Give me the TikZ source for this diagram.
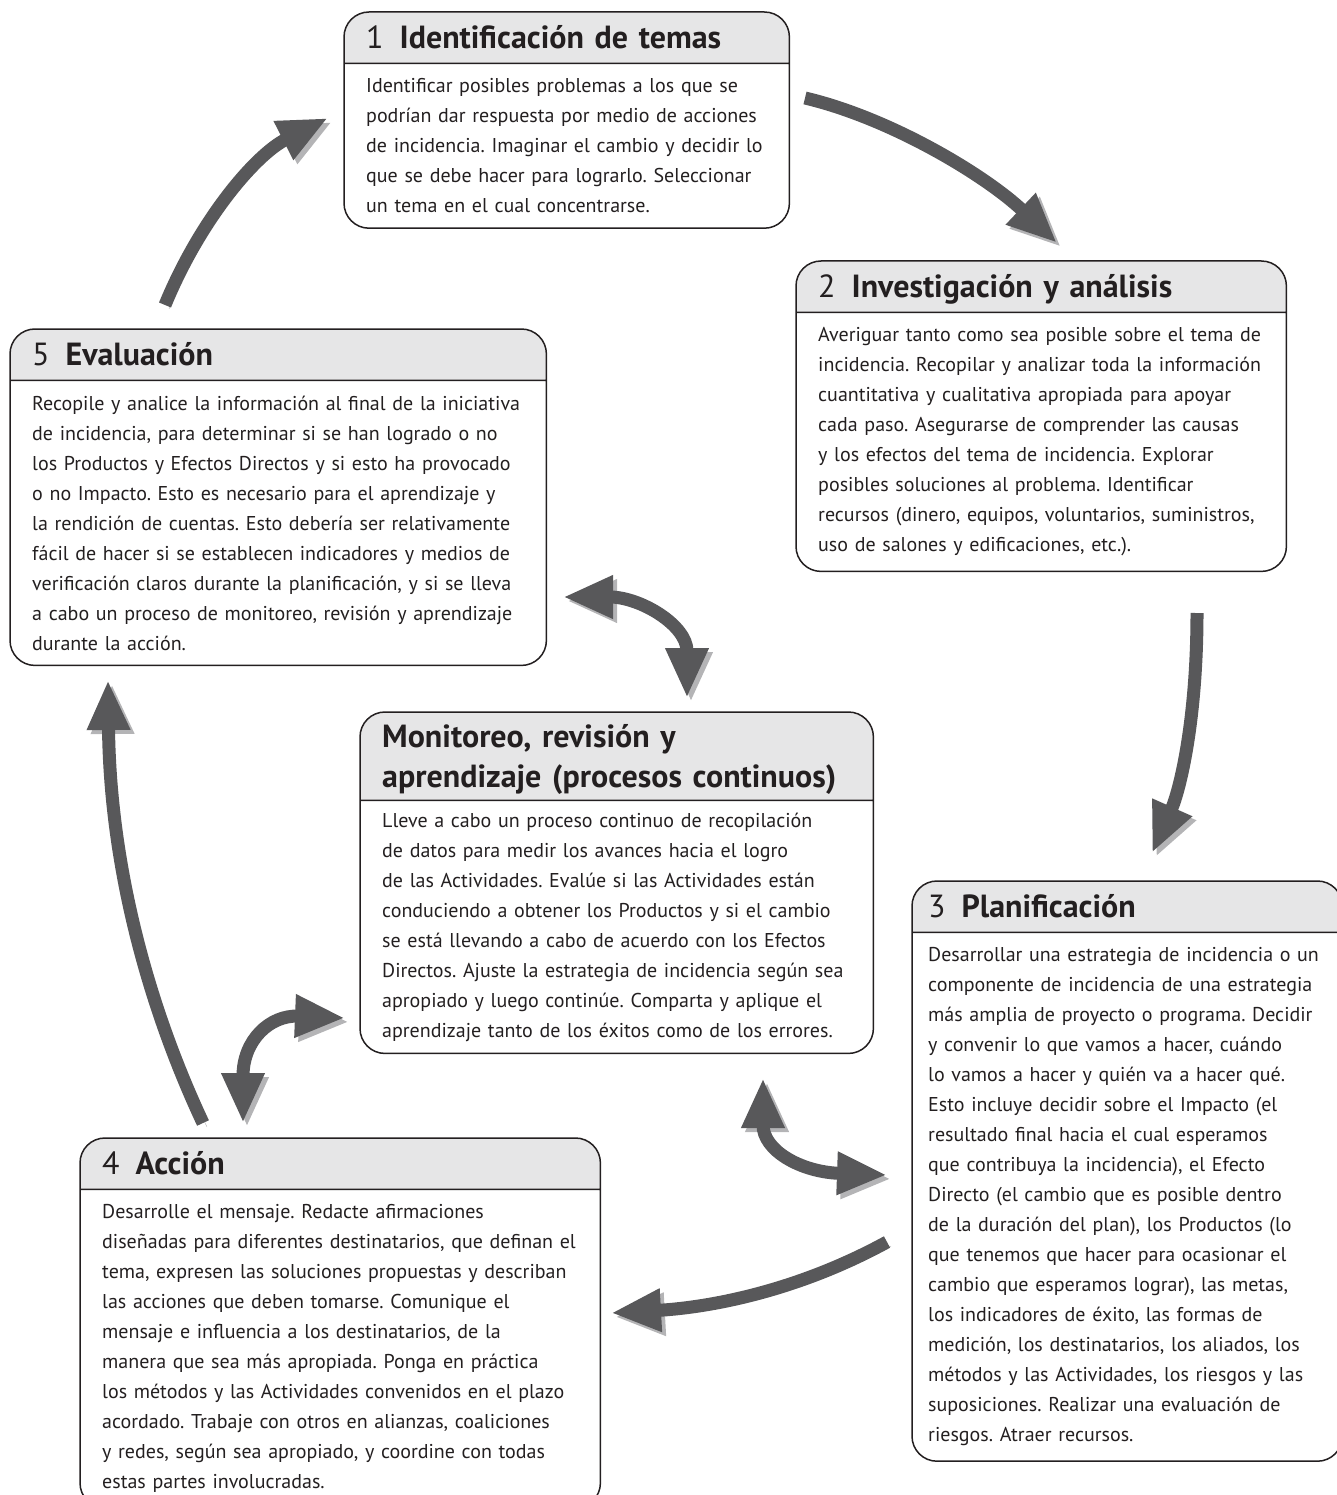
\documentclass[tikz,border=0pt]{standalone}
\usepackage{fontspec}
\setmainfont{PT Sans}
\usetikzlibrary{positioning,arrows.meta,backgrounds}
\definecolor{headgray}{HTML}{E6E6E7}
\definecolor{arrowgray}{HTML}{58585A}
\definecolor{shadegray}{HTML}{B4B4B6}
\definecolor{inkblack}{HTML}{231F20}
\tikzset{
  head/.style={text width=#1, minimum height=51pt, inner xsep=22pt, inner ysep=0pt,
    text height=22pt, text depth=1pt, align=left, text=inkblack,
    font=\fontsize{32}{40}\selectfont},
  body/.style={text width=#1, inner xsep=22pt, inner ysep=15pt,
    align=left, text=inkblack, font=\fontsize{20}{30}\selectfont\frenchspacing},
  frame/.style={draw=inkblack, line width=1.5pt, rounded corners=25pt},
  flow/.style={draw=arrowgray, line width=13pt, >={Triangle[length=50pt,width=40pt]},
    preaction={draw=shadegray, transform canvas={shift={(4pt,-4pt)}}}}
}
\begin{document}
\begin{tikzpicture}[x=1pt, y=-1pt]
\path[use as bounding box] (0,0) rectangle (1337,1495);
\clip (0,0) rectangle (1337,1495);

\node[head=401pt, anchor=north west] (h1) at (344,12) {1\enspace\textbf{Identificación de temas}};
\node[body=401pt, below=0pt of h1] (b1) {Identificar posibles problemas a los que se\\
podrían dar respuesta por medio de acciones\\
de incidencia. Imaginar el cambio y decidir lo\\
que se debe hacer para lograrlo. Seleccionar\\
un tema en el cual concentrarse.};

\node[head=446pt, anchor=north west] (h2) at (796,261) {2\enspace\textbf{Investigación y análisis}};
\node[body=446pt, below=0pt of h2] (b2) {Averiguar tanto como sea posible sobre el tema de\\
incidencia. Recopilar y analizar toda la información\\
cuantitativa y cualitativa apropiada para apoyar\\
cada paso. Asegurarse de comprender las causas\\
y los efectos del tema de incidencia. Explorar\\
posibles soluciones al problema. Identificar\\
recursos (dinero, equipos, voluntarios, suministros,\\
uso de salones y edificaciones, etc.).};

\node[head=492pt, anchor=north west] (h5) at (10,329) {5\enspace\textbf{Evaluación}};
\node[body=492pt, below=0pt of h5] (b5) {Recopile y analice la información al final de la iniciativa\\
de incidencia, para determinar si se han logrado o no\\
los Productos y Efectos Directos y si esto ha provocado\\
o no Impacto. Esto es necesario para el aprendizaje y\\
la rendición de cuentas. Esto debería ser relativamente\\
fácil de hacer si se establecen indicadores y medios de\\
verificación claros durante la planificación, y si se lleva\\
a cabo un proceso de monitoreo, revisión y aprendizaje\\
durante la acción.};

\node[head=469pt, minimum height=88pt, text height=22pt, text depth=40pt, anchor=north west] (hm) at (360,712)
  {\textbf{Monitoreo, revisión y\\aprendizaje (procesos continuos)}};
\node[body=469pt, below=0pt of hm, inner ysep=12pt] (bm) {Lleve a cabo un proceso continuo de recopilación\\
de datos para medir los avances hacia el logro\\
de las Actividades. Evalúe si las Actividades están\\
conduciendo a obtener los Productos y si el cambio\\
se está llevando a cabo de acuerdo con los Efectos\\
Directos. Ajuste la estrategia de incidencia según sea\\
apropiado y luego continúe. Comparta y aplique el\\
aprendizaje tanto de los éxitos como de los errores.};

\node[head=398pt, inner xsep=16pt, anchor=north west] (h3) at (912,881) {3\enspace\textbf{Planificación}};
\node[body=398pt, inner xsep=16pt, below=0pt of h3] (b3) {Desarrollar una estrategia de incidencia o un\\
componente de incidencia de una estrategia\\
más amplia de proyecto o programa. Decidir\\
y convenir lo que vamos a hacer, cuándo\\
lo vamos a hacer y quién va a hacer qué.\\
Esto incluye decidir sobre el Impacto (el\\
resultado final hacia el cual esperamos\\
que contribuya la incidencia), el Efecto\\
Directo (el cambio que es posible dentro\\
de la duración del plan), los Productos (lo\\
que tenemos que hacer para ocasionar el\\
cambio que esperamos lograr), las metas,\\
los indicadores de éxito, las formas de\\
medición, los destinatarios, los aliados, los\\
métodos y las Actividades, los riesgos y las\\
suposiciones. Realizar una evaluación de\\
riesgos. Atraer recursos.};

\node[head=476pt, anchor=north west] (h4) at (80,1138) {4\enspace\textbf{Acción}};
\node[body=476pt, below=0pt of h4] (b4) {Desarrolle el mensaje. Redacte afirmaciones\\
diseñadas para diferentes destinatarios, que definan el\\
tema, expresen las soluciones propuestas y describan\\
las acciones que deben tomarse. Comunique el\\
mensaje e influencia a los destinatarios, de la\\
manera que sea más apropiada. Ponga en práctica\\
los métodos y las Actividades convenidos en el plazo\\
acordado. Trabaje con otros en alianzas, coaliciones\\
y redes, según sea apropiado, y coordine con todas\\
estas partes involucradas.};

\begin{scope}[on background layer]
\foreach \s in {1,2,3,4,5,m} {
  \begin{scope}
    \clip[rounded corners=25pt] (h\s.north west) rectangle (b\s.south east);
    \fill[headgray] (h\s.north west) rectangle (h\s.south east);
  \end{scope}
}
\end{scope}
\foreach \s in {1,2,3,4,5,m}
  \draw[frame] (h\s.north west) rectangle (b\s.south east) (h\s.south west) -- (h\s.south east);

\coordinate (fromEval) at (165,305);
\coordinate (toIdent) at (328,118);
\coordinate (fromIdent) at (805,98);
\coordinate (toInvest) at (1057,243);
\coordinate (fromInvest) at (1197,613);
\coordinate (toPlan) at (1152,853);
\coordinate (fromPlan) at (887,1242);
\coordinate (toAcc) at (611,1313);
\coordinate (fromAcc) at (203,1123);
\coordinate (toEval) at (108,680);
\coordinate (monEval) at (563,597);
\coordinate (evalMon) at (687,698);
\coordinate (monAcc) at (345,1018);
\coordinate (accMon) at (243,1123);
\coordinate (monPlan) at (763,1078);
\coordinate (planMon) at (887,1175);

\draw[flow, ->] (fromEval) .. controls (200,220) and (255,155) .. (toIdent);
\draw[flow, ->] (fromIdent) .. controls (890,118) and (985,175) .. (toInvest);
\draw[flow, ->] (fromInvest) .. controls (1197,720) and (1180,790) .. (toPlan);
\draw[flow, ->] (fromPlan) .. controls (790,1295) and (700,1308) .. (toAcc);
\draw[flow, ->] (fromAcc) .. controls (150,1010) and (110,870) .. (toEval);
\draw[flow, <->] (monEval) .. controls (640,597) and (687,625) .. (evalMon);
\draw[flow, <->] (monAcc) .. controls (270,1015) and (243,1040) .. (accMon);
\draw[flow, <->] (monPlan) .. controls (763,1150) and (800,1172) .. (planMon);
\end{tikzpicture}
\end{document}
